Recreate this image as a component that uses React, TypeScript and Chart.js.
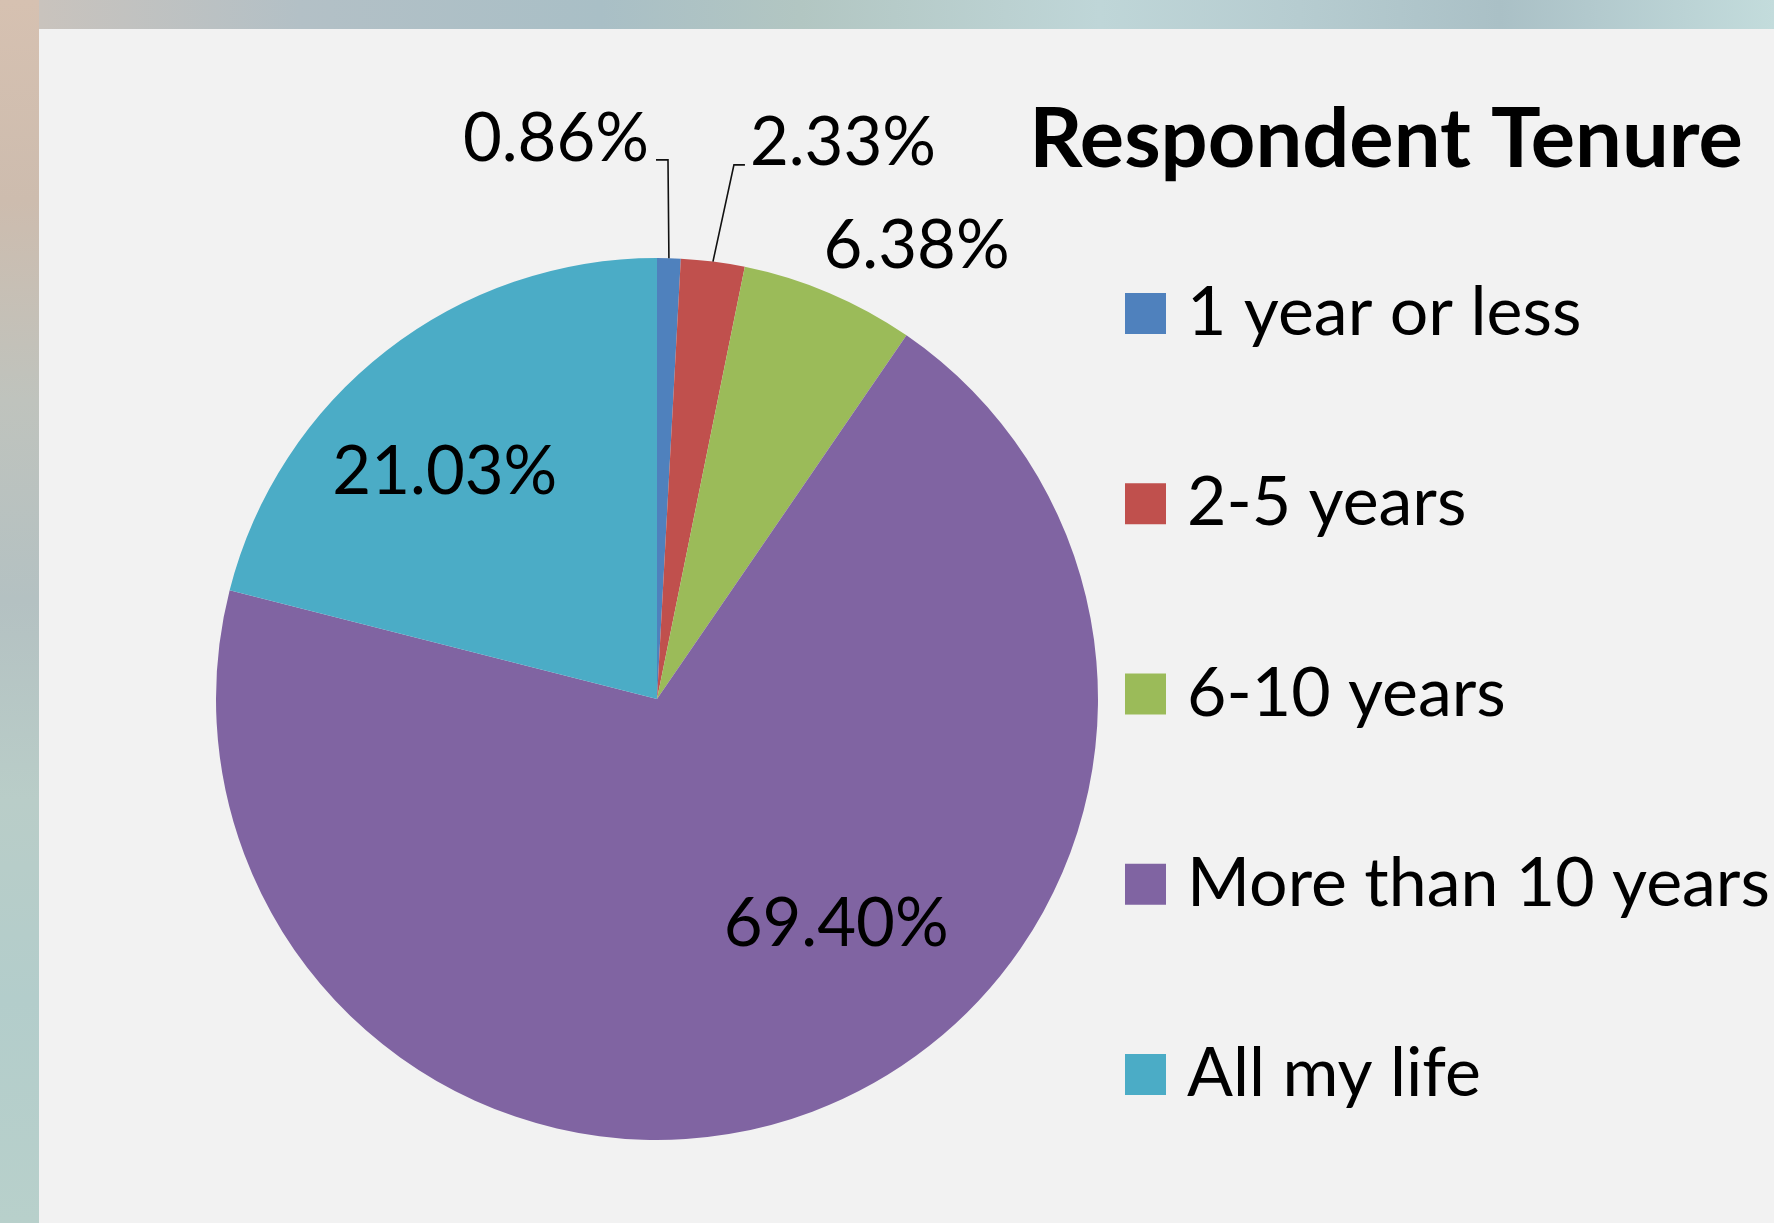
import React, { useEffect, useRef } from "react";
import { Chart, registerables } from "chart.js";

Chart.register(...registerables);

// ---- data ----
const categories = ["1 year or less", "2-5 years", "6-10 years", "More than 10 years", "All my life"];
const shares = [0.86, 2.33, 6.38, 69.4, 21.03];
const sliceColors = ["#4F81BD", "#C0504D", "#9BBB59", "#8064A2", "#4BACC6"];
const chartTitle = "Respondent Tenure";

// ---- layout / style ----
const W = 1774;
const H = 1223;
const FONT = "Lato, 'Open Sans', 'Noto Sans', sans-serif";
const LABEL_PX = 67;
const LEGEND_PX = 68;
const TITLE_PX = 83;
const CAP_HALF = 24;

// label placement: angle offset (deg) from slice mid-angle and radius factor
const labelPlacement = [
  { angle: -11.74, r: 1.295, leader: "right" },
  { angle: 11.14, r: 1.334, leader: "left" },
  { angle: 6.73, r: 1.188, leader: "none" },
  { angle: -18.15, r: 0.6485, leader: "none" },
  { angle: -4.95, r: 0.708, leader: "none" },
];

const decorPlugin = {
  id: "decor",
  afterDraw(chart: any) {
    const ctx: CanvasRenderingContext2D = chart.ctx;
    const meta = chart.getDatasetMeta(0);
    const ds = chart.data.datasets[0];
    ctx.save();
    ctx.fillStyle = "#000";
    ctx.textBaseline = "alphabetic";
    ctx.font = `${LABEL_PX}px ${FONT}`;

    meta.data.forEach((arc: any, i: number) => {
      const p = arc.getProps(["x", "y", "startAngle", "endAngle", "outerRadius"], true);
      const mid = (p.startAngle + p.endAngle) / 2;
      const pl = labelPlacement[i];
      const a = mid + (pl.angle * Math.PI) / 180;
      const cx = p.x + Math.cos(a) * pl.r * p.outerRadius;
      const cy = p.y + Math.sin(a) * pl.r * p.outerRadius;
      const txt = (ds.data[i] as number).toFixed(2) + "%";
      const w = ctx.measureText(txt).width;
      const base = cy + CAP_HALF;
      ctx.textAlign = "center";
      ctx.fillText(txt, cx, base);

      if (pl.leader !== "none") {
        const ex = p.x + Math.cos(mid) * p.outerRadius;
        const ey = p.y + Math.sin(mid) * p.outerRadius;
        ctx.beginPath();
        ctx.strokeStyle = "#111";
        ctx.lineWidth = 1.6;
        if (pl.leader === "right") {
          const tr = cx + w / 2;
          ctx.moveTo(tr + 7, base - 1);
          ctx.lineTo(tr + 19, base - 1);
          ctx.lineTo(ex, ey);
        } else {
          const tl = cx - w / 2;
          ctx.moveTo(tl - 5, base);
          ctx.lineTo(tl - 16, base);
          ctx.lineTo(ex, ey);
        }
        ctx.stroke();
      }
    });

    // title
    ctx.font = `bold ${TITLE_PX}px ${FONT}`;
    ctx.textAlign = "center";
    ctx.fillText(chartTitle, 1386, 167);

    // legend
    ctx.font = `${LEGEND_PX}px ${FONT}`;
    ctx.textAlign = "left";
    const labels = chart.data.labels as string[];
    labels.forEach((lab: string, i: number) => {
      const top = 293 + i * 190.25;
      ctx.fillStyle = (ds.backgroundColor as string[])[i];
      ctx.fillRect(1125, top, 41, 41);
      ctx.fillStyle = "#000";
      ctx.fillText(lab, 1187, top + 42);
    });
    ctx.restore();
  },
};

export default function App() {
  const ref = useRef<HTMLCanvasElement | null>(null);

  useEffect(() => {
    if (!ref.current) return;
    const chart = new Chart(ref.current, {
      type: "pie",
      data: {
        labels: categories,
        datasets: [
          {
            data: shares,
            backgroundColor: sliceColors,
            borderWidth: 0,
            hoverOffset: 0,
            offset: 0,
            hoverBorderWidth: 0,
          } as any,
        ],
      },
      options: {
        responsive: false,
        maintainAspectRatio: false,
        animation: false,
        events: [],
        layout: { padding: { left: 216, top: 258, right: 676, bottom: 83 } },
        plugins: {
          legend: { display: false },
          title: { display: false },
          tooltip: { enabled: false },
        },
      },
      plugins: [decorPlugin],
    });
    return () => chart.destroy();
  }, []);

  return (
    <div
      style={{
        position: "absolute",
        left: 0,
        top: 0,
        width: W,
        height: H,
        overflow: "hidden",
        background:
          "linear-gradient(90deg, #d8c2b0 0px, #c9c3bd 40px, #b3c0c6 300px, #a9bfc6 600px, #b2c6c2 800px, #bfd6d8 1100px, #b6ccd0 1300px, #aac0c6 1500px, #c3dcdc 1774px)",
      }}
    >
      <div
        style={{
          position: "absolute",
          left: 0,
          top: 0,
          width: 39,
          height: H,
          background:
            "linear-gradient(180deg, #d6c1b1 0px, #cdbcae 200px, #bfc3bd 400px, #b4c1c2 600px, #b9cdc8 800px, #b3cdcb 1000px, #b8d0cb 1223px)",
        }}
      />
      <div
        style={{
          position: "absolute",
          left: 39,
          top: 29,
          width: W - 39,
          height: H - 29,
          background: "#f2f2f2",
        }}
      />
      <canvas
        ref={ref}
        width={W}
        height={H}
        style={{ position: "absolute", left: 0, top: 0, width: W, height: H, display: "block" }}
      />
    </div>
  );
}
